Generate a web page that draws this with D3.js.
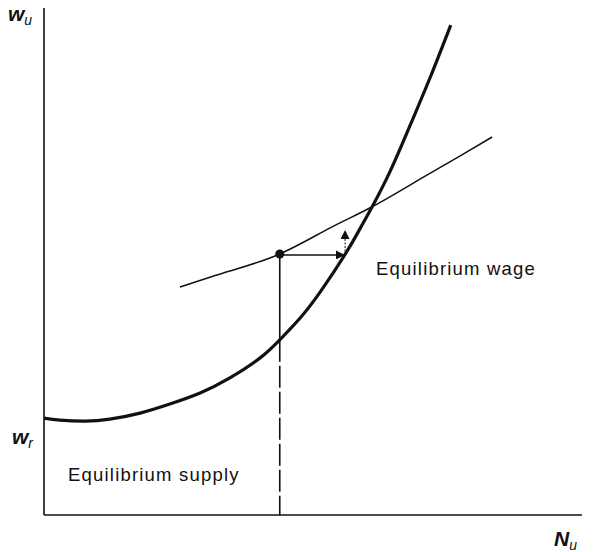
<!DOCTYPE html>
<html>
<head>
<meta charset="utf-8">
<script src="https://cdn.jsdelivr.net/npm/d3@7"></script>
<style>
  body { margin: 0; background: #fff; }
  text { font-family: "Liberation Sans", Arial, sans-serif; fill: #111; }
</style>
</head>
<body>
<svg id="chart"></svg>
<script>
const width = 605
const height = 552

// labour supply curve (bold) in data units, N on x, w on y
const supplyN = [0, 3.0, 7.7, 12.4, 18.1, 23.7, 29.4, 35.0, 40.7, 44.4, 48.2, 52.0, 56.7, 59.5, 61.8, 65.2, 68.9, 72.7, 76.6]
const supplyW = [19.3, 18.9, 18.7, 19.1, 20.3, 22.1, 24.3, 27.3, 31.3, 34.9, 39.2, 44.4, 51.9, 57.0, 61.4, 68.5, 77.5, 87.1, 97.6]

// wage curve (thin)
const wageN = [25.6, 35.0, 44.4, 53.9, 61.8, 70.8, 78.3, 84.4]
const wageW = [45.4, 48.6, 52.0, 57.2, 61.4, 66.9, 71.5, 75.3]

// starting point and adjustment arrows
const startPt = { n: 44.4, w: 52.0 }
const arrowH = { n0: 44.4, n1: 56.5, w: 51.8 }
const arrowV = { n: 56.7, w0: 51.8, w1: 56.6 }
const dropSolidTo = 34.9

const x = d3.scaleLinear().domain([0, 100]).range([44, 575])
const y = d3.scaleLinear().domain([0, 100]).range([515, 13])

const svg = d3.select('#chart').attr('width', width).attr('height', height)

const defs = svg.append('defs')
defs.append('marker')
  .attr('id', 'head')
  .attr('viewBox', '0 0 10 10')
  .attr('refX', 9).attr('refY', 5)
  .attr('markerWidth', 9).attr('markerHeight', 9)
  .attr('markerUnits', 'userSpaceOnUse')
  .attr('orient', 'auto')
  .append('path').attr('d', 'M0,0 L10,5 L0,10 Z').attr('fill', '#111')

// axes
svg.append('line')
  .attr('x1', x(0)).attr('x2', x(0))
  .attr('y1', 8).attr('y2', y(0))
  .attr('stroke', '#111').attr('stroke-width', 1.6)
svg.append('line')
  .attr('x1', x(0)).attr('x2', 582)
  .attr('y1', y(0)).attr('y2', y(0))
  .attr('stroke', '#111').attr('stroke-width', 1.6)

const line = d3.line()
  .x(d => x(d[0]))
  .y(d => y(d[1]))
  .curve(d3.curveNatural)

svg.append('path')
  .datum(d3.zip(supplyN, supplyW))
  .attr('d', line)
  .attr('fill', 'none').attr('stroke', '#111').attr('stroke-width', 3.2)

svg.append('path')
  .datum(d3.zip(wageN, wageW))
  .attr('d', line)
  .attr('fill', 'none').attr('stroke', '#111').attr('stroke-width', 1.5)

// drop line from the point down to the axis
svg.append('line')
  .attr('x1', x(startPt.n)).attr('x2', x(startPt.n))
  .attr('y1', y(startPt.w)).attr('y2', y(dropSolidTo))
  .attr('stroke', '#111').attr('stroke-width', 1.6)
svg.append('line')
  .attr('x1', x(startPt.n)).attr('x2', x(startPt.n))
  .attr('y1', y(dropSolidTo)).attr('y2', y(0))
  .attr('stroke', '#111').attr('stroke-width', 1.6)
  .attr('stroke-dasharray', '22,4')

svg.append('line')
  .attr('x1', x(arrowH.n0)).attr('x2', x(arrowH.n1))
  .attr('y1', y(arrowH.w)).attr('y2', y(arrowH.w))
  .attr('stroke', '#111').attr('stroke-width', 1.6)
  .attr('marker-end', 'url(#head)')

svg.append('line')
  .attr('x1', x(arrowV.n)).attr('x2', x(arrowV.n))
  .attr('y1', y(arrowV.w0)).attr('y2', y(arrowV.w1))
  .attr('stroke', '#111').attr('stroke-width', 1)
  .attr('stroke-dasharray', '2,1.5')
  .attr('marker-end', 'url(#head)')

svg.append('circle')
  .attr('cx', x(startPt.n)).attr('cy', y(startPt.w))
  .attr('r', 4.5).attr('fill', '#111')

// labels
svg.append('text').attr('x', 376).attr('y', 275)
  .attr('font-size', 18.5).attr('letter-spacing', 1.2).text('Equilibrium wage')
svg.append('text').attr('x', 68).attr('y', 481)
  .attr('font-size', 18.5).attr('letter-spacing', 1.2).text('Equilibrium supply')

function axisLabel(px, py, main, sub) {
  const t = svg.append('text').attr('x', px).attr('y', py)
    .attr('font-size', 21).attr('font-style', 'italic').attr('font-weight', 'bold')
  t.append('tspan').text(main)
  t.append('tspan').attr('font-size', 14).attr('font-weight', 'normal').attr('dy', 4).text(sub)
}
axisLabel(8, 21, 'w', 'u')
axisLabel(12, 444, 'w', 'r')
axisLabel(554, 546, 'N', 'u')
</script>
</body>
</html>
